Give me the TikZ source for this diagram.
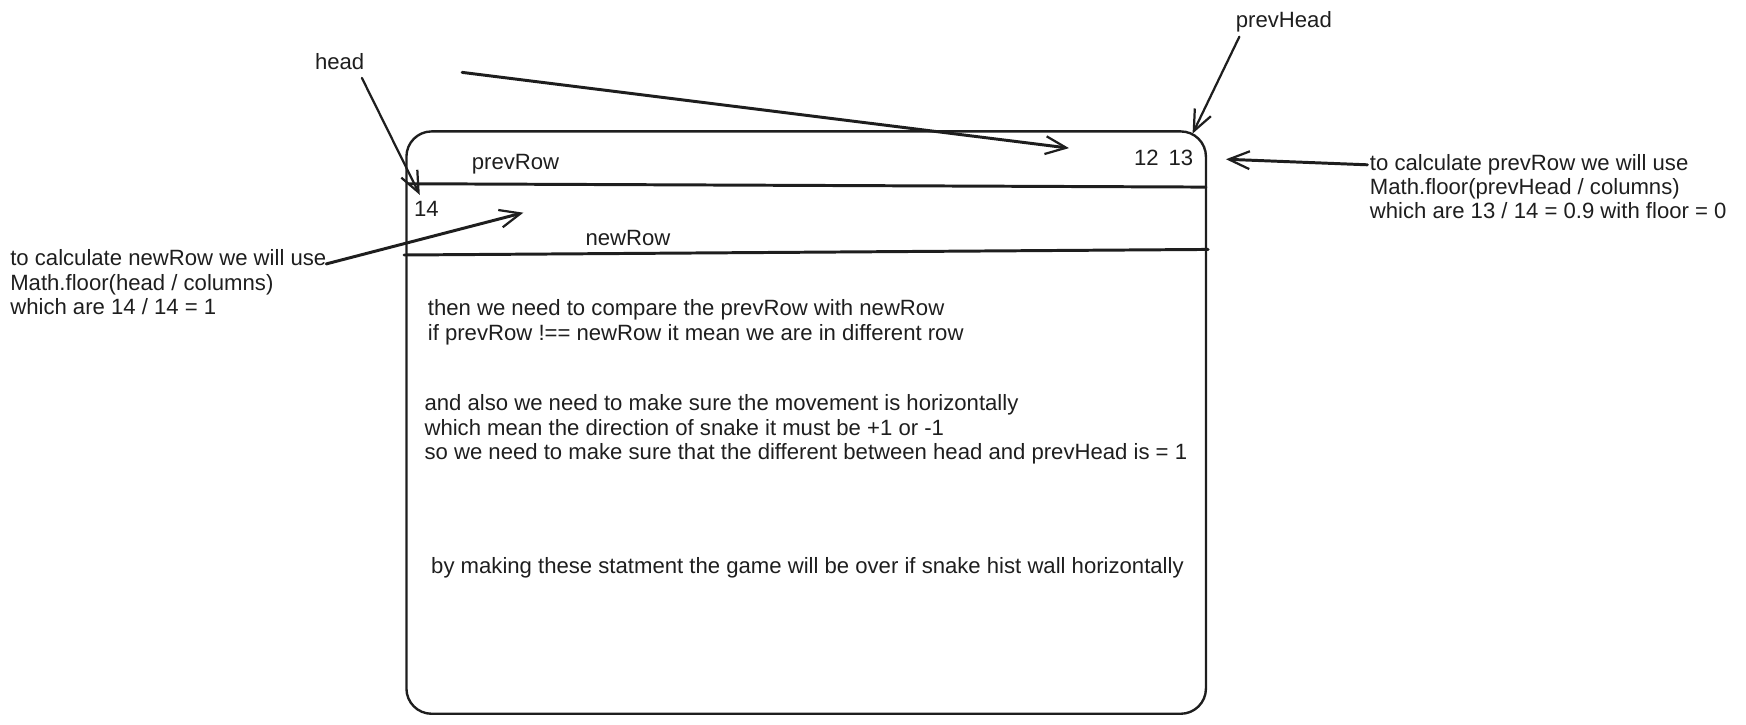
\documentclass[tikz,border=0pt]{standalone}
\usepackage{fontspec}
\setmainfont{Liberation Sans}
\usetikzlibrary{arrows.meta}
\definecolor{inkc}{HTML}{1E1E1E}
\begin{document}
\begin{tikzpicture}[x=0.75pt,y=-0.75pt, line cap=round, line join=round,
  ink/.style={draw=inkc, line width=1.5pt},
  inkthick/.style={draw=inkc, line width=2pt},
  txt/.style={font=\fontsize{14.9}{16.5}\selectfont, text=inkc, inner sep=0pt, align=left, anchor=north west},
  lbl/.style={txt, anchor=center},
  barb/.style={-{Straight Barb[length=14pt,width=12pt,line width=1.5pt]}}
]
\useasboundingbox (0,0) rectangle (1568,651);

% main box
\node[draw=inkc, line width=1.6pt, rounded corners=17pt, minimum width=538.5pt, minimum height=392.25pt, inner sep=0pt] (box) at (724,379.5) {};
\draw[inkthick] (367,165) -- (1083,168);
\draw[inkthick] (363,229) -- (1085,224);

% labels
\node[lbl] (head) at (305,55) {head};
\node[lbl] (prevhead) at (1153,20) {prevHead};
\node[lbl] (prevrow) at (463,147) {prevRow};
\node[lbl] (n1213) at (1045,142) {12\ \,13};
\node[lbl] (n14) at (383,188) {14};
\node[lbl] (newrow) at (564,214) {newRow};

\node[txt] (lefttxt) at (9,224) {to calculate newRow we will use\\Math.floor(head / columns)\\which are 14 / 14 = 1};
\node[txt] (righttxt) at (1230,138) {to calculate prevRow we will use\\Math.floor(prevHead / columns)\\which are 13 / 14 = 0.9 with floor = 0};

\node[txt] (b1) at (384,269) {then we need to compare the prevRow with newRow\\if prevRow !== newRow it mean we are in different row};
\node[txt] (b2) at (381,354) {and also we need to make sure the movement is horizontally\\which mean the direction of snake it must be +1 or -1\\so we need to make sure that the different between head and prevHead is = 1};
\node[txt] (b3) at (387,500) {by making these statment the game will be over if snake hist wall horizontally};

% arrows
\coordinate (h1) at (325,70);
\coordinate (h2) at (377,175);
\draw[ink,barb] (h1) -- (h2);

\coordinate (l1) at (415,65);
\coordinate (l2) at (960,133);
\draw[inkthick,barb] (l1) -- (l2);

\coordinate (p1) at (1113,33);
\coordinate (p2) at (1071,120);
\draw[ink,barb] (p1) -- (p2);

\coordinate (n1) at (293,237);
\coordinate (n2) at (470,191);
\draw[inkthick,barb] (n1) -- (n2);

\coordinate (r1) at (1228,148);
\coordinate (r2) at (1101,143);
\draw[inkthick,barb] (r1) -- (r2);
\end{tikzpicture}
\end{document}
